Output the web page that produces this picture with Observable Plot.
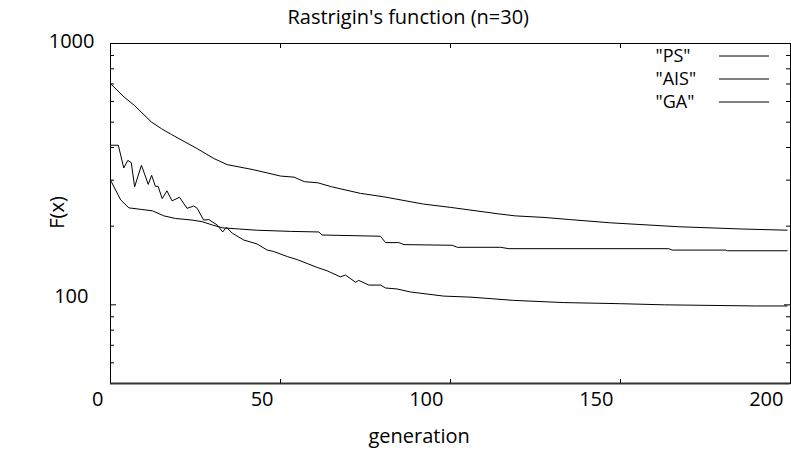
<!DOCTYPE html>
<html>
<head>
<meta charset="utf-8">
<script src="https://cdn.jsdelivr.net/npm/d3@7"></script>
<script src="https://cdn.jsdelivr.net/npm/@observablehq/plot@0.6"></script>
<style>
  html, body { margin: 0; padding: 0; background: #fff; }
</style>
</head>
<body>
<div id="chart"></div>
<script>
// ---- data ----
const seriesNames = ["PS", "AIS", "GA"];

const psGen = [0,4,7,12,15,18,25.5,30.4,34.3,42,50,54,57,61,65,73.5,80.4,92,100,114,119,127.5,135,147,167,186,199];
const psVal = [702,624,580,501,472,448,396,363,344,329,311,308,296,293,283,267,259,243,236,223,219,216,212,206,199,195,193];

const aisGen = [0,3,5.4,8.8,12.3,15.7,19.1,24,27,30,33,38,43,53,61.3,62.2,79.4,80.9,84.8,86.3,100.5,102,114.7,117.2,164.2,165.2,180.9,181.5,199];
const aisVal = [300,252,235,232,229,219,214,211,208,202,197,195,193,191,190,185,183,173,173,170,169,166,166,164,164,162,162,161,161];

const gaGen = [0,2.3,3.9,5.1,6.1,7.1,9.1,11.1,12.1,13.2,14,15.2,16.6,18.1,20.3,22.5,24.5,25.5,27.4,28.9,31.4,33,34.1,35.8,39.2,43.1,46.1,48,52,54.9,57.8,60.8,63.7,67.6,69.1,72.1,73,76,79.4,80.9,84.3,88.2,98,106,118.6,133.3,150,163,190,199];
const gaVal = [408,408,334,357,350,283,342,289,313,284,284,255,273,250,258,234,239,234,211,212,202,190,198,188,177,171,162,160,153,149,144,139,135,128,130,122,124,119,119,116,115,112,108,107,104,102,101,100,99,99];

const xTicks = [0, 50, 100, 150, 200];
const yMajorTicks = [100, 1000];
const yMinorTicks = [60, 70, 80, 90, 200, 300, 400, 500, 600, 700, 800, 900];
const xDomain = [0, 200];
const yDomain = [50, 1000];

const titleText = "Rastrigin's function (n=30)";
const xLabel = "generation";
const yLabel = "F(x)";

// ---- build table ----
const gens = [psGen, aisGen, gaGen];
const vals = [psVal, aisVal, gaVal];
const data = seriesNames.flatMap((name, s) =>
  gens[s].map((g, i) => ({series: name, gen: g, val: vals[s][i]}))
);

const W = 791, H = 456;
const mL = 110, mR = 1, mT = 43, mB = 73;
const plotW = W - mL - mR, plotH = H - mT - mB;
const FONT = "'Open Sans', 'Liberation Sans', Arial, sans-serif";
const FS = 20;
const LEGEND_FS = 18;

const legendMark = (index, scales, values, dims) => {
  const g = d3.create("svg:g");
  seriesNames.forEach((name, i) => {
    const y = 56 + i * 23;
    g.append("line")
      .attr("x1", 719).attr("x2", 769)
      .attr("y1", y).attr("y2", y)
      .attr("stroke", "#000").attr("stroke-width", 1);
  });
  return g.node();
};

const marks = [
  Plot.frame({stroke: "#000", strokeWidth: 1}),
  Plot.ruleY([yDomain[0]], {stroke: "#333", strokeWidth: 2}),
  // y ticks, left & right (inward)
  Plot.tickY(yMinorTicks, {y: d => d, insetRight: plotW - 4, stroke: "#000"}),
  Plot.tickY(yMinorTicks, {y: d => d, insetLeft: plotW - 4, stroke: "#000"}),
  Plot.tickY(yMajorTicks, {y: d => d, insetRight: plotW - 6, stroke: "#000"}),
  Plot.tickY(yMajorTicks, {y: d => d, insetLeft: plotW - 6, stroke: "#000"}),
  // x ticks, bottom & top (inward)
  Plot.tickX(xTicks, {x: d => d, insetTop: plotH - 4, stroke: "#000"}),
  Plot.tickX(xTicks, {x: d => d, insetBottom: plotH - 5, stroke: "#000"}),
  // tick labels
  Plot.text(xTicks, {x: d => d, text: d => String(d), frameAnchor: "bottom", dy: 16, dx: -7,
    textAnchor: "end", lineAnchor: "middle", fontSize: FS, fill: "#000"}),
  Plot.text([1000], {y: d => d, text: d => String(d), frameAnchor: "left", dx: -16, dy: -2,
    textAnchor: "end", lineAnchor: "middle", fontSize: FS, fill: "#000"}),
  Plot.text([100], {y: d => d, text: d => String(d), frameAnchor: "left", dx: -22, dy: -8.5,
    textAnchor: "end", lineAnchor: "middle", fontSize: FS, fill: "#000"}),
  // titles
  Plot.text([titleText], {frameAnchor: "top-left", dx: 287 - mL, dy: -25.5, textAnchor: "start",
    lineAnchor: "middle", fontSize: FS, fill: "#000"}),
  Plot.text([xLabel], {frameAnchor: "bottom-left", dx: 368 - mL, dy: 436 - (H - mB), textAnchor: "start",
    lineAnchor: "middle", fontSize: FS, fill: "#000"}),
  Plot.text([yLabel], {frameAnchor: "left", dx: 57 - mL, dy: -1, rotate: -90, textAnchor: "middle",
    lineAnchor: "middle", fontSize: FS, fill: "#000"}),
  // lines
  Plot.line(data, {x: "gen", y: "val", z: "series", stroke: "#000", strokeWidth: 1}),
  // legend
  ...seriesNames.map((name, i) =>
    Plot.text([`"${name}"`], {frameAnchor: "top-left", dx: 655 - mL, dy: 56 + i * 23 - mT,
      textAnchor: "start", lineAnchor: "middle", fontSize: LEGEND_FS, fill: "#000"})
  ),
  legendMark
];

const chart = Plot.plot({
  width: W,
  height: H,
  marginLeft: mL,
  marginRight: mR,
  marginTop: mT,
  marginBottom: mB,
  style: {fontFamily: FONT, fontSize: FS + "px", background: "#fff", color: "#000", overflow: "visible"},
  x: {domain: xDomain, axis: null},
  y: {type: "log", domain: yDomain, axis: null},
  marks
});
document.getElementById("chart").appendChild(chart);
</script>
</body>
</html>
